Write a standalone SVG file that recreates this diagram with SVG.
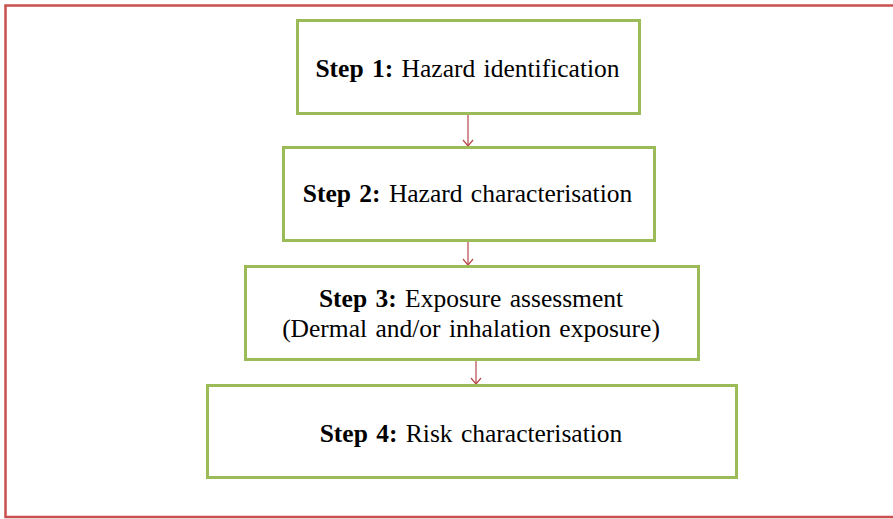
<svg xmlns="http://www.w3.org/2000/svg" width="893" height="519" viewBox="0 0 893 519">
<style>
.box{fill:#fff;stroke:#9bbb59;stroke-width:3}
.t{font-family:"Liberation Serif","Times New Roman",serif;font-size:25.5px;fill:#000;text-anchor:middle;word-spacing:2px}
.b{font-weight:bold}
.c{stroke:#b5474a;stroke-width:1.2;fill:none}
</style>
<defs>
<marker id="ah" markerWidth="12" markerHeight="12" refX="10" refY="6" orient="auto" markerUnits="userSpaceOnUse">
<path d="M4,1 L10,6 L4,11" fill="none" stroke="#b5474a" stroke-width="1.2"/>
</marker>
</defs>
<rect width="893" height="519" fill="#fff"/>
<path d="M900,5.5 H5.5 V517 H900" fill="none" stroke="#c9504f" stroke-width="2.5"/>
<g id="connectors">
<line class="c" x1="468" y1="114" x2="468" y2="146" marker-end="url(#ah)"/>
<line class="c" x1="468" y1="241" x2="468" y2="265" marker-end="url(#ah)"/>
<line class="c" x1="476" y1="360" x2="476" y2="384" marker-end="url(#ah)"/>
</g>
<g id="step1">
<rect class="box" x="297.5" y="20.5" width="342" height="93"/>
<text class="t" x="467.5" y="77"><tspan class="b">Step 1:</tspan> Hazard identification</text>
</g>
<g id="step2">
<rect class="box" x="283.5" y="147.5" width="371" height="93"/>
<text class="t" x="467.5" y="202"><tspan class="b">Step 2:</tspan> Hazard characterisation</text>
</g>
<g id="step3">
<rect class="box" x="245.5" y="266.5" width="453" height="93"/>
<text class="t" x="471" y="307"><tspan class="b">Step 3:</tspan> Exposure assessment</text>
<text class="t" x="471" y="337">(Dermal and/or inhalation exposure)</text>
</g>
<g id="step4">
<rect class="box" x="207.5" y="385.5" width="529" height="92"/>
<text class="t" x="471" y="442"><tspan class="b">Step 4:</tspan> Risk characterisation</text>
</g>
</svg>
